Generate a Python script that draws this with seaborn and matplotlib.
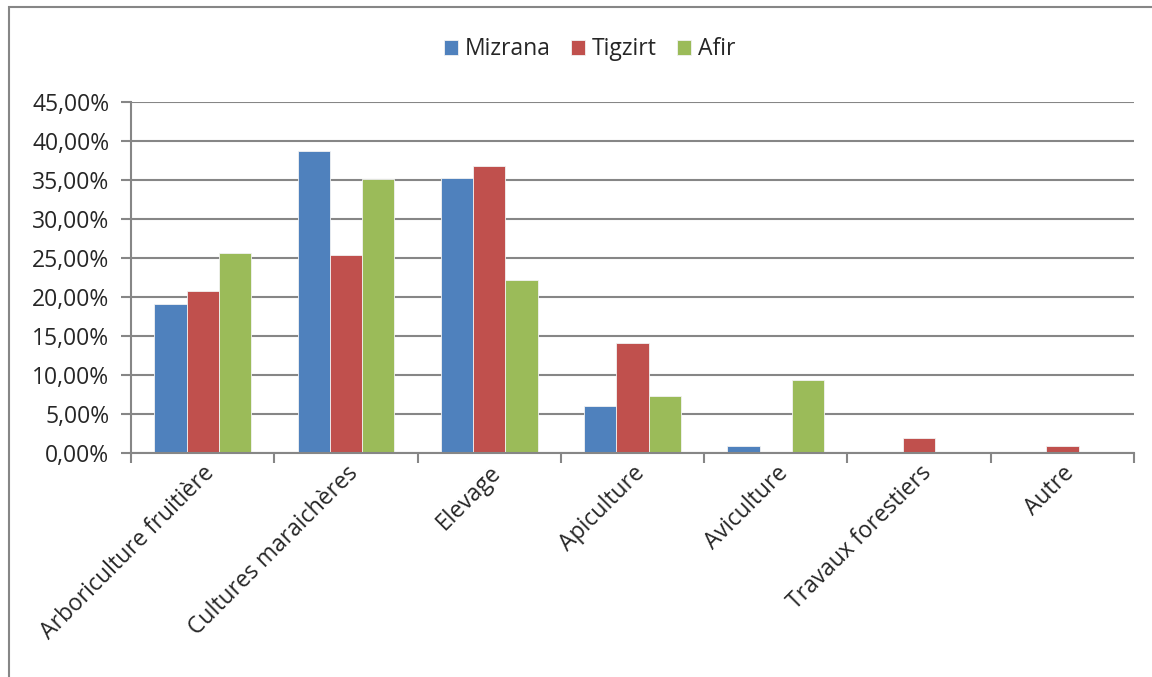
import numpy as np
import pandas as pd
import matplotlib
matplotlib.use("Agg")
import matplotlib.pyplot as plt
import seaborn as sns
from matplotlib.ticker import FuncFormatter, FixedLocator
from matplotlib.patches import Rectangle

# Data (shares of activity, in %)
categories = ["Arboriculture fruitière", "Cultures maraichères", "Elevage",
              "Apiculture", "Aviculture", "Travaux forestiers", "Autre"]
series = ["Mizrana", "Tigzirt", "Afir"]
mizrana = [19.05, 38.7, 35.2, 6.0, 0.95, 0.0, 0.0]
tigzirt = [20.75, 25.4, 36.8, 14.15, 0.0, 1.85, 0.87]
afir = [25.6, 35.1, 22.2, 7.35, 9.4, 0.0, 0.0]

palette = ["#4F81BD", "#C0504D", "#9BBB59"]
grid_grey = "#868686"
fs = 16.5

df = pd.DataFrame({
    "Activite": categories * 3,
    "Zone": [s for s in series for _ in categories],
    "Part": mizrana + tigzirt + afir,
})

sns.set_style("white")
plt.rcParams["font.family"] = ["Open Sans", "DejaVu Sans"]

fig = plt.figure(figsize=(11.52, 6.77), dpi=100)
ax = fig.add_axes([0.1137, 0.331, 0.8707, 0.5184])

sns.barplot(data=df, x="Activite", y="Part", hue="Zone", palette=palette,
            saturation=1, width=0.675, edgecolor="#f2f2f2", linewidth=0.6,
            ax=ax, legend=True)

ax.set_ylim(0, 45)
ax.set_xlim(-0.5, len(categories) - 0.5)
ax.set_yticks(np.arange(0, 46, 5))
ax.yaxis.set_major_formatter(FuncFormatter(lambda v, p: f"{v:.2f}%".replace(".", ",")))
ax.set_axisbelow(True)
ax.yaxis.grid(True, color=grid_grey, linewidth=1.5)
ax.set_xlabel("")
ax.set_ylabel("")

# category tick marks between groups
ax.xaxis.set_minor_locator(FixedLocator(np.arange(-0.5, len(categories), 1)))
ax.tick_params(axis="x", which="minor", length=7, width=1.5, color=grid_grey, direction="out", bottom=True)
ax.tick_params(axis="x", which="major", length=0, pad=6, labelsize=fs)
ax.tick_params(axis="y", which="major", length=7, width=1.5, color=grid_grey, direction="out", left=True, labelsize=fs, pad=8.5)
plt.setp(ax.get_xticklabels(), rotation=45, ha="right", rotation_mode="anchor")

for side in ["top", "right"]:
    ax.spines[side].set_visible(False)
for side in ["left", "bottom"]:
    ax.spines[side].set_color(grid_grey)
    ax.spines[side].set_linewidth(1.5)

# legend on top
handles, labels = ax.get_legend_handles_labels()
ax.get_legend().remove()
fig.legend(handles, labels, loc="center", bbox_to_anchor=(0.512, 0.927), ncol=3,
           frameon=False, fontsize=fs, handlelength=0.6, handleheight=0.6,
           handletextpad=0.3, columnspacing=0.9)

# chart border
fig.patches.append(Rectangle((0.008, -0.05), 1.2, 1.0395, transform=fig.transFigure,
                             fill=False, edgecolor=grid_grey, linewidth=1.5, zorder=0))

fig.savefig("out.png", dpi=100)
